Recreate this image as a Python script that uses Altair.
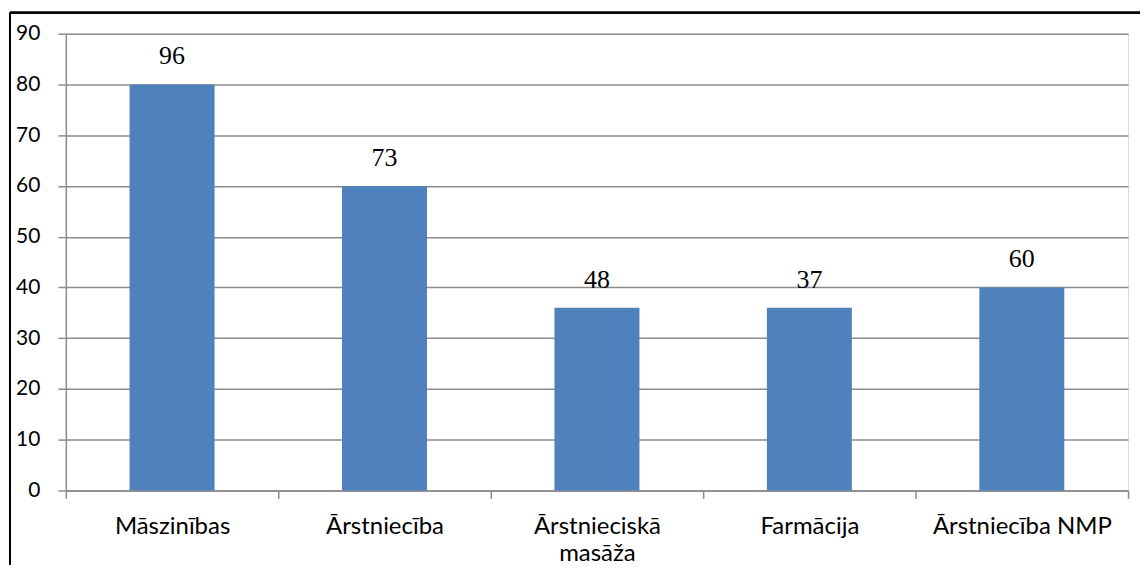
import altair as alt
import pandas as pd

categories = ["Māszinības", "Ārstniecība", "Ārstnieciskā masāža", "Farmācija", "Ārstniecība NMP"]
bar_values = [80, 60, 36, 36, 40]
value_labels = ["96", "73", "48", "37", "60"]
y_ticks = [0, 10, 20, 30, 40, 50, 60, 70, 80, 90]

df = pd.DataFrame({"cat": categories, "val": bar_values, "lab": value_labels})

W, H = 1065, 458
GRAY = "#8c8c8c"

x = alt.X(
    "cat:N",
    sort=categories,
    title=None,
    scale=alt.Scale(paddingInner=0, paddingOuter=0),
    axis=alt.Axis(
        tickBand="extent",
        labelAngle=0,
        labelFont="Lato",
        labelFontSize=24,
        labelColor="#000000",
        labelPadding=16,
        labelLineHeight=27,
        labelExpr="datum.label == 'Ārstnieciskā masāža' ? ['Ārstnieciskā', 'masāža'] : datum.label",
        tickSize=8,
        tickColor=GRAY,
        tickWidth=1.5,
        domainColor=GRAY,
        domainWidth=1.5,
        grid=False,
    ),
)

y = alt.Y(
    "val:Q",
    title=None,
    scale=alt.Scale(domain=[0, 90], nice=False),
    axis=alt.Axis(
        values=y_ticks,
        labelFont="Lato",
        labelFontSize=21,
        labelColor="#000000",
        labelPadding=18,
        tickSize=8,
        tickColor=GRAY,
        tickWidth=1.5,
        domainColor=GRAY,
        domainWidth=1.5,
        gridColor=GRAY,
        gridWidth=1.5,
    ),
)

bars = alt.Chart(df).mark_bar(color="#4f81bd", width={"band": 0.4}).encode(x=x, y=y)

texts = alt.Chart(df).mark_text(
    font="Liberation Serif", fontSize=26, baseline="bottom", dy=-15, color="#000000"
).encode(x=alt.X("cat:N", sort=categories), y="val:Q", text="lab:N")

frame_top = alt.Chart(df).mark_rule(color="#000000", strokeWidth=2).encode(
    x=alt.value(-56), x2=alt.value(W + 200), y=alt.value(-21)
)
frame_left = alt.Chart(df).mark_rule(color="#000000", strokeWidth=2).encode(
    x=alt.value(-56), y=alt.value(-21), y2=alt.value(H + 200)
)

chart = (
    alt.layer(bars, texts, frame_top, frame_left)
    .properties(
        width=W,
        height=H,
        autosize=alt.AutoSizeParams(type="none"),
        padding={"left": 58, "top": 25, "right": 12, "bottom": 74},
    )
    .configure_view(stroke=None)
    .configure(background="white")
)

chart.save("out.html", embed_options={"renderer": "svg", "actions": False})
